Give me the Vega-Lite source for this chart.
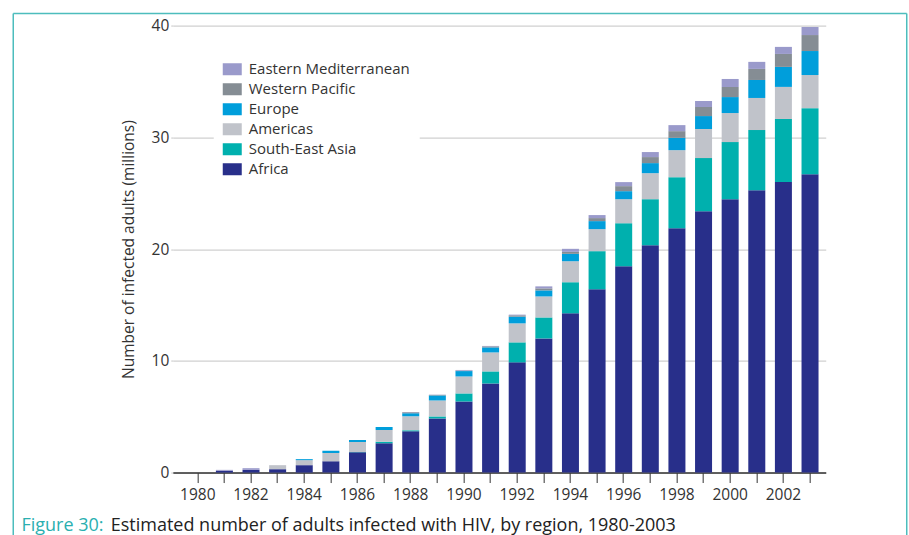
{
  "$schema": "https://vega.github.io/schema/vega-lite/v6.json",
  "width": 653,
  "height": 447,
  "autosize": {"type": "pad"},
  "padding": {"left": 11.75, "top": 12.55, "right": 0, "bottom": 0},
  "background": "white",
  "config": {
    "font": "Open Sans",
    "view": {"stroke": null},
    "axis": {"labelFont": "Open Sans", "titleFont": "Open Sans"},
    "legend": {"labelFont": "Open Sans"}
  },
  "datasets": {
    "hiv": [
      {"year": 1980, "Africa": 0, "South-East Asia": 0, "Americas": 0, "Europe": 0, "Western Pacific": 0, "Eastern Mediterranean": 0},
      {"year": 1981, "Africa": 0.15, "South-East Asia": 0, "Americas": 0, "Europe": 0, "Western Pacific": 0, "Eastern Mediterranean": 0.09},
      {"year": 1982, "Africa": 0.24, "South-East Asia": 0, "Americas": 0, "Europe": 0, "Western Pacific": 0, "Eastern Mediterranean": 0.15},
      {"year": 1983, "Africa": 0.30, "South-East Asia": 0, "Americas": 0.36, "Europe": 0, "Western Pacific": 0, "Eastern Mediterranean": 0},
      {"year": 1984, "Africa": 0.66, "South-East Asia": 0, "Americas": 0.45, "Europe": 0.09, "Western Pacific": 0, "Eastern Mediterranean": 0},
      {"year": 1985, "Africa": 1.02, "South-East Asia": 0, "Americas": 0.72, "Europe": 0.21, "Western Pacific": 0, "Eastern Mediterranean": 0},
      {"year": 1986, "Africa": 1.82, "South-East Asia": 0.02, "Americas": 0.90, "Europe": 0.18, "Western Pacific": 0, "Eastern Mediterranean": 0},
      {"year": 1987, "Africa": 2.63, "South-East Asia": 0.12, "Americas": 1.05, "Europe": 0.27, "Western Pacific": 0, "Eastern Mediterranean": 0},
      {"year": 1988, "Africa": 3.70, "South-East Asia": 0.09, "Americas": 1.25, "Europe": 0.27, "Western Pacific": 0.09, "Eastern Mediterranean": 0.02},
      {"year": 1989, "Africa": 4.84, "South-East Asia": 0.18, "Americas": 1.43, "Europe": 0.45, "Western Pacific": 0.05, "Eastern Mediterranean": 0.02},
      {"year": 1990, "Africa": 6.36, "South-East Asia": 0.72, "Americas": 1.52, "Europe": 0.48, "Western Pacific": 0.04, "Eastern Mediterranean": 0.06},
      {"year": 1991, "Africa": 7.97, "South-East Asia": 1.08, "Americas": 1.70, "Europe": 0.45, "Western Pacific": 0.09, "Eastern Mediterranean": 0.04},
      {"year": 1992, "Africa": 9.86, "South-East Asia": 1.79, "Americas": 1.70, "Europe": 0.60, "Western Pacific": 0.12, "Eastern Mediterranean": 0.06},
      {"year": 1993, "Africa": 12.0, "South-East Asia": 1.88, "Americas": 1.88, "Europe": 0.54, "Western Pacific": 0.18, "Eastern Mediterranean": 0.18},
      {"year": 1994, "Africa": 14.25, "South-East Asia": 2.78, "Americas": 1.88, "Europe": 0.66, "Western Pacific": 0.18, "Eastern Mediterranean": 0.27},
      {"year": 1995, "Africa": 16.40, "South-East Asia": 3.41, "Americas": 1.97, "Europe": 0.72, "Western Pacific": 0.27, "Eastern Mediterranean": 0.27},
      {"year": 1996, "Africa": 18.46, "South-East Asia": 3.85, "Americas": 2.15, "Europe": 0.72, "Western Pacific": 0.45, "Eastern Mediterranean": 0.36},
      {"year": 1997, "Africa": 20.34, "South-East Asia": 4.12, "Americas": 2.33, "Europe": 0.90, "Western Pacific": 0.54, "Eastern Mediterranean": 0.45},
      {"year": 1998, "Africa": 21.86, "South-East Asia": 4.57, "Americas": 2.42, "Europe": 1.10, "Western Pacific": 0.60, "Eastern Mediterranean": 0.54},
      {"year": 1999, "Africa": 23.39, "South-East Asia": 4.75, "Americas": 2.60, "Europe": 1.16, "Western Pacific": 0.81, "Eastern Mediterranean": 0.54},
      {"year": 2000, "Africa": 24.46, "South-East Asia": 5.11, "Americas": 2.60, "Europe": 1.43, "Western Pacific": 0.90, "Eastern Mediterranean": 0.72},
      {"year": 2001, "Africa": 25.27, "South-East Asia": 5.38, "Americas": 2.87, "Europe": 1.61, "Western Pacific": 0.99, "Eastern Mediterranean": 0.63},
      {"year": 2002, "Africa": 25.99, "South-East Asia": 5.65, "Americas": 2.87, "Europe": 1.79, "Western Pacific": 1.16, "Eastern Mediterranean": 0.63},
      {"year": 2003, "Africa": 26.70, "South-East Asia": 5.91, "Americas": 2.96, "Europe": 2.15, "Western Pacific": 1.43, "Eastern Mediterranean": 0.72}
    ]
  },
  "resolve": {"scale": {"x": "independent", "y": "independent"}, "axis": {"x": "independent", "y": "independent"}},
  "layer": [
    {
      "data": {"name": "hiv"},
      "transform": [
        {"fold": ["Africa", "South-East Asia", "Americas", "Europe", "Western Pacific", "Eastern Mediterranean"], "as": ["region", "value"]},
        {"window": [{"op": "row_number", "as": "k"}], "groupby": ["year"]}
      ],
      "mark": {"type": "bar", "strokeWidth": 0},
      "encoding": {
        "x": {
          "field": "year", "type": "ordinal",
          "scale": {"paddingInner": 0.3614, "paddingOuter": 0.446, "align": 0.696, "round": false},
          "axis": {
            "title": null, "grid": false,
            "domainColor": "#333333", "domainWidth": 1.5,
            "tickColor": "#777777", "tickWidth": 1.5, "tickSize": 10,
            "labelFontSize": 15.5, "labelColor": "#333333", "labelPadding": 5, "labelAngle": 0,
            "labelOverlap": false,
            "labelExpr": "datum.value % 2 == 0 ? datum.label : ''"
          }
        },
        "y": {
          "field": "value", "type": "quantitative", "stack": "zero",
          "scale": {"domain": [0, 40], "nice": false},
          "axis": {
            "title": "Number of infected adults (millions)",
            "titleFontSize": 15.5, "titleFontWeight": "normal", "titleColor": "#333333", "titlePadding": 15,
            "values": [0, 10, 20, 30, 40],
            "domain": false, "grid": true, "gridColor": "#d0d0d0", "gridWidth": 1.2,
            "tickColor": "#d0d0d0", "tickSize": 2, "tickWidth": 1.2,
            "labelFontSize": 15.5, "labelColor": "#333333", "labelPadding": 2
          }
        },
        "color": {
          "field": "region", "type": "nominal",
          "scale": {
            "domain": ["Eastern Mediterranean", "Western Pacific", "Europe", "Americas", "South-East Asia", "Africa"],
            "range": ["#9a9acb", "#858d94", "#009edb", "#c0c3ca", "#00b0ae", "#282f8a"]
          },
          "legend": {
            "title": null, "orient": "none", "legendX": 41, "legendY": 25.2,
            "symbolType": "M-1,-0.632H1V0.632H-1Z", "symbolSize": 361, "symbolStrokeWidth": 0, "symbolOpacity": 1,
            "labelFontSize": 15, "labelColor": "#333333", "labelOffset": 7, "labelLimit": 400,
            "rowPadding": 2, "padding": 9, "fillColor": "white"
          }
        },
        "order": {"field": "k", "type": "quantitative", "sort": "ascending"}
      }
    },
    {
      "data": {"values": [{}]},
      "mark": {"type": "rule", "color": "#4dbdbd", "strokeWidth": 1.5},
      "encoding": {
        "x": {"datum": -0.24426, "type": "quantitative", "scale": {"domain": [0, 1]}, "axis": null},
        "y": {"datum": 1.02685, "type": "quantitative", "scale": {"domain": [0, 1]}, "axis": null},
        "y2": {"datum": -0.14027}
      }
    },
    {
      "data": {"values": [{}]},
      "mark": {"type": "rule", "color": "#4dbdbd", "strokeWidth": 1.5},
      "encoding": {
        "x": {"datum": 1.12404, "type": "quantitative", "scale": {"domain": [0, 1]}, "axis": null},
        "y": {"datum": 1.02685, "type": "quantitative", "scale": {"domain": [0, 1]}, "axis": null},
        "y2": {"datum": -0.14027}
      }
    },
    {
      "data": {"values": [{}]},
      "mark": {"type": "rule", "color": "#4dbdbd", "strokeWidth": 1.5},
      "encoding": {
        "x": {"datum": -0.24426, "type": "quantitative", "scale": {"domain": [0, 1]}, "axis": null},
        "x2": {"datum": 1.12404},
        "y": {"datum": 1.02685, "type": "quantitative", "scale": {"domain": [0, 1]}, "axis": null}
      }
    },
    {
      "data": {"values": [{}]},
      "mark": {"type": "text", "text": "Figure 30:", "align": "left", "baseline": "alphabetic", "fontSize": 18, "color": "#2aafb0"},
      "encoding": {
        "x": {"datum": -0.2317, "type": "quantitative", "scale": {"domain": [0, 1]}, "axis": null},
        "y": {"datum": -0.1313, "type": "quantitative", "scale": {"domain": [0, 1]}, "axis": null}
      }
    },
    {
      "data": {"values": [{}]},
      "mark": {"type": "text", "text": "Estimated number of adults infected with HIV, by region, 1980-2003", "align": "left", "baseline": "alphabetic", "fontSize": 18, "color": "#222222"},
      "encoding": {
        "x": {"datum": -0.0949, "type": "quantitative", "scale": {"domain": [0, 1]}, "axis": null},
        "y": {"datum": -0.1313, "type": "quantitative", "scale": {"domain": [0, 1]}, "axis": null}
      }
    }
  ]
}
